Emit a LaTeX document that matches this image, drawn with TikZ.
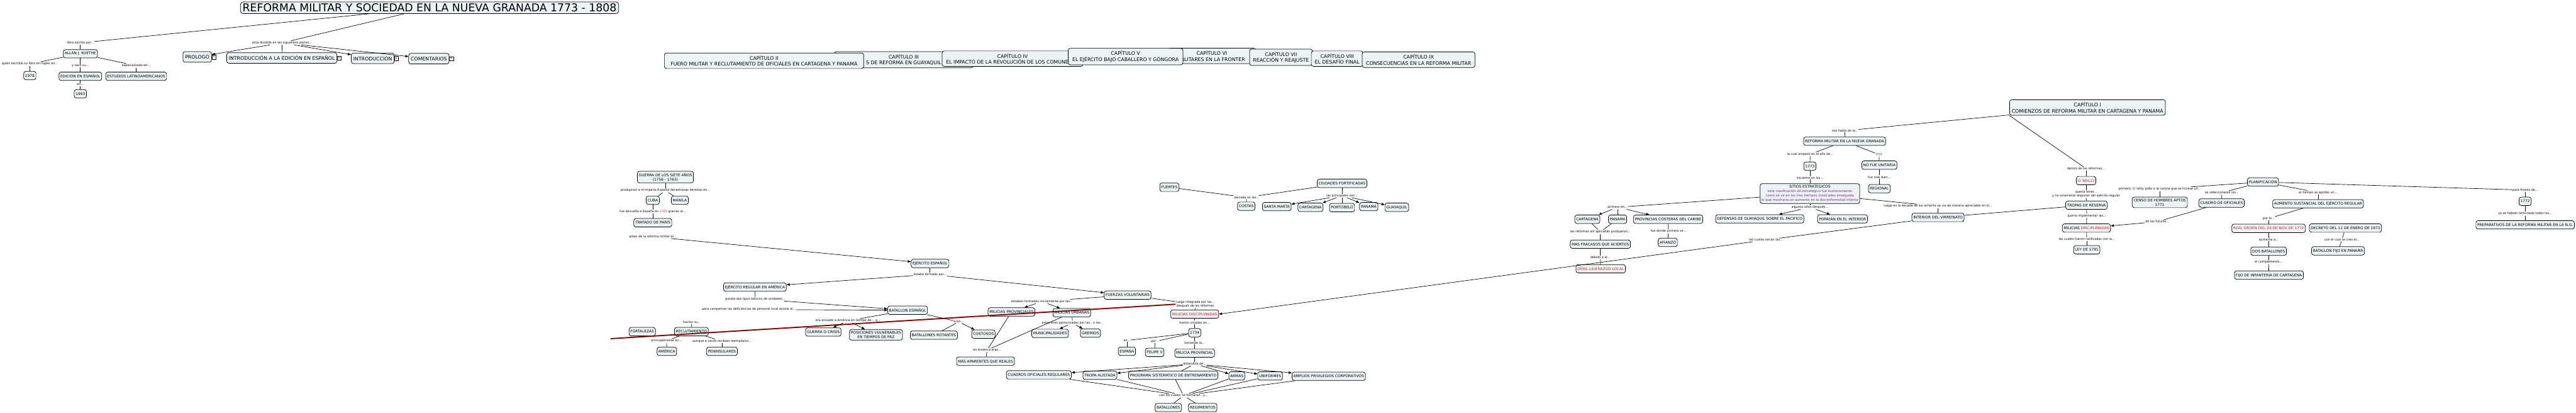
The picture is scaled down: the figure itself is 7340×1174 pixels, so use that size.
\documentclass[tikz,border=0pt]{standalone}
\usepackage{fontspec}
\setmainfont{DejaVu Sans}
\usetikzlibrary{arrows.meta,positioning}
\definecolor{clFondo}{HTML}{EBF3F5}
\definecolor{clRojo}{HTML}{E8202A}
\definecolor{clMorado}{HTML}{8E1F8E}
\definecolor{clVino}{HTML}{7A0C0C}
\tikzset{
  concepto/.style={rectangle, rounded corners=6pt, draw=black, line width=1.3pt,
                   fill=clFondo, align=center, inner xsep=4pt, inner ysep=5pt,
                   minimum height=24pt, font=\fontsize{10.5}{12.5}\selectfont},
  parte/.style={concepto, font=\fontsize{14}{17}\selectfont, inner xsep=6pt, minimum height=30pt},
  capitulo/.style={parte, inner ysep=7pt},
  titulo/.style={concepto, font=\fontsize{31}{36}\selectfont, inner xsep=6pt, rounded corners=8pt},
  enlace/.style={fill=white, inner sep=1.5pt, align=center, font=\fontsize{8.7}{10.5}\selectfont},
  vinculo/.style={draw=black, line width=0.8pt, fill=white, inner sep=0pt,
                  minimum width=11pt, minimum height=12pt, font=\fontsize{10}{10}\selectfont},
  linea/.style={draw=black, line width=1.2pt},
  flecha/.style={linea, -{Triangle[length=9pt,width=7pt]}},
  resaltado/.style={draw=clVino, line width=3.5pt},
}
\begin{document}
\begin{tikzpicture}[x=1pt, y=-1pt]
  \useasboundingbox (0,0) rectangle (7340,1174);

  % titulo y partes del libro
  \node[titulo] (titulo) at (1224,22) {REFORMA MILITAR Y SOCIEDAD EN LA NUEVA GRANADA 1773 - 1808};
  \node[enlace] (lEscrito) at (229,122) {libro escrito por...};
  \node[enlace] (lDividido) at (804,122) {esta dividido en las siguientes partes...};
  \node[concepto] (allan) at (229,153) {ALLAN J. KUETHE};
  \node[enlace] (lIngles) at (85,182) {quien escribió su libro en ingles en...};
  \node[enlace] (lSaco) at (229,187) {y saco su...};
  \node[enlace] (lEspec) at (388,187) {especializado en...};
  \node[concepto] (n1978) at (85,215) {1978};
  \node[concepto] (edicion) at (229,217) {EDICIÓN EN ESPAÑOL};
  \node[concepto] (estudios) at (388,217) {ESTUDIOS LATINOAMERICANOS};
  \node[enlace] (lEn) at (229,241) {en...};
  \node[concepto] (n1993) at (229,267) {1993};
  \node[parte] (prologo) at (562,162) {PROLOGO};
  \node[parte] (introEd) at (803,165) {INTRODUCCIÓN A LA EDICIÓN EN ESPAÑOL};
  \node[parte] (intro) at (1062,166) {INTRODUCCIÓN};
  \node[parte] (comentarios) at (1222,167) {COMENTARIOS};
  \foreach \p in {prologo,introEd,intro,comentarios}
    \node[vinculo, anchor=west] (\p Ico) at (\p.east) {»};

  % capitulos
  \node[capitulo, minimum width=397pt] (cap3) at (2575,170) {CAPÍTULO III\\S DE REFORMA EN GUAYAQUIL};
  \node[capitulo, minimum width=568pt] (cap2) at (2177,173) {CAPÍTULO II\\FUERO MILITAR Y RECLUTAMIENTO DE OFICIALES EN CARTAGENA Y PANAMÁ};
  \node[capitulo, minimum width=401pt] (cap4) at (2885,167) {CAPÍTULO IV\\EL IMPACTO DE LA REVOLUCIÓN DE LOS COMUNEROS};
  \node[capitulo, minimum width=250pt] (cap6) at (3453,159) {CAPÍTULO VI\\MILITARES EN LA FRONTER};
  \node[capitulo, minimum width=327pt] (cap5) at (3207,161) {CAPÍTULO V\\EL EJÉRCITO BAJO CABALLERO Y GÓNGORA};
  \node[capitulo, minimum width=179pt] (cap7) at (3650,163) {CAPÍTULO VII\\REACCIÓN Y REAJUSTE};
  \node[capitulo, minimum width=147pt] (cap8) at (3810,167) {CAPÍTULO VIII\\EL DESAFÍO FINAL};
  \node[capitulo, minimum width=321pt] (cap9) at (4042,170) {CAPÍTULO IX\\CONSECUENCIAS EN LA REFORMA MILITAR};
  \node[capitulo] (cap1) at (5948,306) {CAPÍTULO I\\COMIENZOS DE REFORMA MILITAR EN CARTAGENA Y PANAMÁ};

  % ejercito espanol
  \node[concepto] (guerra) at (1896,504) {GUERRA DE LOS SIETE AÑOS\\(1756 - 1763)};
  \node[enlace] (lDerrotas) at (1896,542) {produjeron a el Imperio Español desastrozas derrotas en...};
  \node[concepto] (cuba) at (1860,570) {CUBA};
  \node[concepto] (manila) at (1937,570) {MANILA};
  \node[enlace] (lDevuelta) at (1860,602) {fue devuelta a España en \textcolor{clRojo}{1763} gracias al...};
  \node[concepto] (tratado) at (1860,634) {TRATADO DE PARIS};
  \node[enlace] (lAntes) at (1860,674) {antes de la reforma militar el...};
  \node[concepto] (ejEsp) at (2650,750) {EJÉRCITO ESPAÑOL};
  \node[enlace] (lFormado) at (2650,781) {estaba formado por...};
  \node[concepto] (ejReg) at (2151,817) {EJÉRCITO REGULAR EN AMÉRICA};
  \node[concepto] (fuerzas) at (3213,840) {FUERZAS VOLUNTARIAS};
  \node[enlace] (lPoseia) at (2152,851) {poseía dos tipos básicos de unidades...};
  \node[enlace] (lCompensar) at (2134,881) {para compensar las deficiencias de personal local existia el...};
  \node[concepto] (batEsp) at (2586,883) {BATALLON ESPAÑOL};
  \node[enlace] (lHacian) at (1971,917) {hacían su...};
  \node[concepto] (fortalezas) at (1830,944) {FORTALEZAS};
  \node[concepto] (reclut) at (1970,944) {RECLUTAMIENTO};
  \node[enlace] (lPrincEn) at (1899,970) {principalmente en...};
  \node[enlace] (lAunque) at (2057,971) {aunque a veces recibian reemplazos...};
  \node[concepto] (america) at (1900,1000) {AMÉRICA};
  \node[concepto] (peninsulares) at (2057,1000) {PENINSULARES};
  \node[enlace] (lEnviado) at (2416,913) {era enviado a América en tiempo de... o...};
  \node[concepto] (guerraCrisis) at (2346,945) {GUERRA O CRISIS};
  \node[concepto] (posiciones) at (2496,953) {POSICIONES VULNERABLES\\EN TIEMPOS DE PAZ};
  \node[enlace] (lEran) at (2732,916) {eran...};
  \node[concepto] (rotantes) at (2661,954) {BATALLONES ROTANTES};
  \node[concepto] (costosos) at (2802,951) {COSTOSOS};
  \node[enlace] (lFormadas) at (2969,858) {estaban formadas inicialmente por las...};
  \node[concepto] (milProv) at (2882,888) {MILICIAS PROVINCIALES};
  \node[concepto] (milUrb) at (3054,890) {MILICIAS URBANAS};
  \node[enlace] (lEnAmerica) at (2813,996) {en América eran...};
  \node[concepto] (aparentes) at (2808,1028) {MÁS APARENTES QUE REALES};
  \node[enlace] (lPatrocinadas) at (3056,919) {estas eran patrocinadas por las.. o los...};
  \node[concepto] (municip) at (2992,949) {MUNICIPALIDADES};
  \node[concepto] (gremios) at (3107,948) {GREMIOS};
  \node[enlace] (lIntegrada) at (3406,866) {luego integrada por las...\\después de las reformas};
  \node[concepto, text=clRojo] (milDisc) at (3404,894) {MILICIAS DISCIPLINADAS};
  \node[enlace] (lCreadas) at (3404,918) {fueron creadas en...};
  \node[concepto] (n1734) at (3404,947) {1734};
  \node[enlace] (lEnEsp) at (3211,969) {en...};
  \node[concepto] (espana) at (3211,1000) {ESPAÑA};
  \node[enlace] (lPor) at (3291,972) {por...};
  \node[concepto] (felipe) at (3290,1003) {FELIPE V};
  \node[enlace] (lTomando) at (3404,976) {tomando la...};
  \node[concepto] (milicia) at (3404,1005) {MILICIA PROVINCIAL};
  \node[enlace] (lDotandola) at (3404,1036) {dotandola de...};
  \node[concepto] (cuadros) at (2960,1067) {CUADROS OFICIALES REGULARES};
  \node[concepto] (tropa) at (3134,1068) {TROPA ALISTADA};
  \node[concepto] (programa) at (3343,1068) {PROGRAMA SISTEMATICO DE ENTRENAMIENTO};
  \node[concepto] (armas) at (3524,1070) {ARMAS};
  \node[concepto] (uniformes) at (3619,1070) {UNIFORMES};
  \node[concepto] (amplios) at (3786,1071) {AMPLIOS PRIVILEGIOS CORPORATIVOS};
  \node[enlace] (lFormaron) at (3372,1126) {con los cuales se formaron...y...};
  \node[concepto] (batallones) at (3329,1160) {BATALLONES};
  \node[concepto] (regimientos) at (3427,1160) {REGIMIENTOS};
  \coordinate (rojoIni) at (1740,964);

  % ciudades fortificadas
  \node[concepto] (fuertes) at (3332,533) {FUERTES};
  \node[concepto] (ciudades) at (3824,522) {CIUDADES FORTIFICADAS};
  \node[enlace] (lUbicada) at (3552,562) {ubicada en las...};
  \node[enlace] (lPrincipales) at (3824,557) {las principales son...};
  \node[concepto] (costas) at (3551,587) {COSTAS};
  \node[concepto] (santaMarta) at (3638,588) {SANTA MARTA};
  \node[concepto] (cartagena) at (3734,590) {CARTAGENA};
  \node[concepto] (portobelo) at (3824,591) {PORTOBELO};
  \node[concepto] (panama) at (3900,588) {PANAMÁ};
  \node[concepto] (guayaquil) at (3980,590) {GUAYAQUIL};

  % reforma militar en la nueva granada
  \node[enlace] (lHabla) at (5257,372) {nos habla de la...};
  \node[concepto] (reforma) at (5256,402) {REFORMA MILITAR EN LA NUEVA GRANADA};
  \node[enlace] (lEmpezo) at (5158,439) {la cual empezó en el año de...};
  \node[enlace] (lInterr) at (5354,440) {????};
  \node[concepto] (n1773) at (5157,473) {1773};
  \node[concepto] (unitaria) at (5355,470) {NO FUE UNITARIA};
  \node[enlace] (lInicial) at (5157,506) {inicialme en los...};
  \node[enlace] (lMasBien) at (5355,504) {fue más bien...};
  \node[concepto] (regional) at (5355,537) {REGIONAL};
  \node[concepto, font=\fontsize{9.4}{12.3}\selectfont] (sitios) at (5157,551)
    {{\fontsize{10.5}{12.3}\selectfont SITIOS ESTRATEGICOS}\\\textcolor{clMorado}{esta clasificación de estrategico fue evolucionando}\\\textcolor{clMorado}{como se ve en los tres tiempos mostrados enseguida}\\\textcolor{clMorado}{lo que mostraria un aumento en la disconformidad interna}};
  \node[enlace] (lPrimero) at (4609,590) {primero en...};
  \node[concepto] (cartagena2) at (4523,624) {CARTAGENA};
  \node[concepto] (panama2) at (4609,624) {PANAMÁ};
  \node[concepto] (provincias) at (4753,624) {PROVINCIAS COSTERAS DEL CARIBE};
  \node[enlace] (lReformasAlli) at (4560,660) {las reformas allí aplicadas produjeron...};
  \node[concepto] (fracasos) at (4560,695) {MÁS FRACASOS QUE ACIERTOS};
  \node[enlace] (lDebido) at (4560,733) {debido a el...};
  \node[concepto, text=clRojo] (debil) at (4561,765) {DÉBIL LIDERAZGO LOCAL};
  \node[enlace] (lAfianzo) at (4754,658) {fue donde primero se...};
  \node[concepto] (afianzo) at (4752,690) {AFIANZÓ};
  \node[enlace] (lAlgunos) at (5157,590) {algunos años después...};
  \node[concepto] (defensas) at (5014,623) {DEFENSAS DE GUAYAQUIL SOBRE EL PACIFICO};
  \node[concepto] (popayan) at (5250,623) {POPAYÁN EN EL INTERIOR};
  \node[enlace] (lOchenta) at (5522,587) {luego en la decada de los ochenta se vio de manera apreciable en el...};
  \node[concepto] (interior) at (5522,619) {INTERIOR DEL VIRREINATO};
  \node[enlace] (lSerian) at (5032,683) {las cuales serian las...};

  % o'reilly y planificacion
  \node[enlace] (lDentro) at (5944,480) {dentro de las reformas...};
  \node[concepto, text=clRojo] (oreilly) at (5944,514) {O´REILLY};
  \node[enlace] (lQueria) at (5944,552) {quería tener...\\y no solamente disponer del ejército regular};
  \node[concepto] (tropas) at (5945,584) {TROPAS DE RESERVA};
  \node[enlace] (lImplementar) at (5946,614) {quería implementar las...};
  \node[concepto] (milDisc2) at (5945,649) {MILICIAS \textcolor{clRojo}{DISCIPLINADAS}};
  \node[enlace] (lRatificadas) at (5946,681) {las cuales fueron ratificadas con la...};
  \node[concepto] (ley) at (5946,711) {LEY DE 1791};
  \node[concepto] (planif) at (6448,518) {PLANIFICACIÓN};
  \node[enlace] (lCorona) at (6154,538) {primero, O´reilly pidio a la corona que se hiciese un...};
  \node[concepto] (censo) at (6154,576) {CENSO DE HOMBRES APTOS\\1771};
  \node[enlace] (lSelecc) at (6331,548) {se seleccionaron los...};
  \node[concepto] (cuadroOf) at (6330,578) {CUADRO DE OFICIALES};
  \node[enlace] (lAprobo) at (6605,548) {al tiempo se aprobo un...};
  \node[concepto] (aumento) at (6605,580) {AUMENTO SUSTANCIAL DEL EJÉRCITO REGULAR};
  \node[enlace] (lFinales) at (7195,541) {para finales de...};
  \node[concepto] (n1772) at (7195,573) {1772};
  \node[enlace] (lTerminado) at (7195,608) {ya se habian terminado todos los...};
  \node[concepto] (preparativos) at (7195,640) {PREPARATIVOS DE LA REFORMA MILITAR EN LA N.G.};
  \node[enlace] (lFuturas) at (6147,631) {de las futuras...};
  \node[enlace] (lPorLa) at (6464,622) {por la...};
  \node[concepto, text=clRojo] (realOrden) at (6464,650) {REAL ORDEN DEL 24 DE NOV DE 1772};
  \node[enlace] (lAumenta) at (6464,682) {aumenta a...};
  \node[concepto] (dosBat) at (6464,715) {DOS BATALLONES};
  \node[enlace] (lComplemento) at (6464,746) {el complemento...};
  \node[concepto] (fijo) at (6465,783) {FIJO DE INFANTERÍA DE CARTAGENA};
  \node[concepto] (decreto) at (6683,649) {DECRETO DEL 11 DE ENERO DE 1973};
  \node[enlace] (lCreo) at (6673,682) {con el cual se creo el...};
  \node[concepto] (batFijo) at (6662,714) {BATALLON FIJO EN PANAMÁ};

  % conectores
  \draw[linea] (titulo) -- (lEscrito);
  \draw[linea] (titulo) -- (lDividido);
  \draw[linea] (lEscrito) -- (allan);
  \draw[linea] (allan) -- (lIngles);
  \draw[linea] (lIngles) -- (n1978);
  \draw[linea] (allan) -- (lSaco);
  \draw[linea] (lSaco) -- (edicion);
  \draw[linea] (allan) -- (lEspec);
  \draw[linea] (lEspec) -- (estudios);
  \draw[linea] (edicion) -- (lEn);
  \draw[linea] (lEn) -- (n1993);
  \draw[flecha] (lDividido) -- (prologo);
  \draw[linea] (lDividido) -- (introEd);
  \draw[flecha] (lDividido) -- (intro);
  \draw[flecha] (lDividido) -- (comentarios);

  \draw[resaltado] (rojoIni) -- (lIntegrada.west);
  \draw[linea] (guerra) -- (lDerrotas);
  \draw[linea] (lDerrotas) -- (cuba);
  \draw[linea] (lDerrotas) -- (manila);
  \draw[linea] (cuba) -- (lDevuelta);
  \draw[linea] (lDevuelta) -- (tratado);
  \draw[flecha] (lAntes) -- (ejEsp);
  \draw[linea] (ejEsp) -- (lFormado);
  \draw[flecha] (lFormado) -- (ejReg);
  \draw[flecha] (lFormado) -- (fuerzas);
  \draw[linea] (ejReg) -- (lPoseia);
  \draw[flecha] (lPoseia) -- (batEsp);
  \draw[flecha] (lCompensar) -- (batEsp);
  \draw[linea] (lHacian) -- (reclut);
  \draw[linea] (reclut) -- (lPrincEn);
  \draw[linea] (lPrincEn) -- (america);
  \draw[linea] (reclut) -- (lAunque);
  \draw[linea] (lAunque) -- (peninsulares);
  \draw[linea] (batEsp) -- (lEnviado);
  \draw[flecha] (lEnviado) -- (guerraCrisis);
  \draw[flecha] (lEnviado) -- (posiciones);
  \draw[linea] (batEsp) -- (lEran);
  \draw[linea] (lEran) -- (rotantes);
  \draw[flecha] (lEran) -- (costosos);
  \draw[linea] (fuerzas) -- (lFormadas);
  \draw[flecha] (lFormadas) -- (milProv);
  \draw[flecha] (lFormadas) -- (milUrb);
  \draw[linea] (milProv) -- (lEnAmerica);
  \draw[linea] (milUrb) -- (lEnAmerica);
  \draw[linea] (lEnAmerica) -- (aparentes);
  \draw[linea] (milUrb) -- (lPatrocinadas);
  \draw[flecha] (lPatrocinadas) -- (municip);
  \draw[flecha] (lPatrocinadas) -- (gremios);
  \draw[linea] (fuerzas) -- (lIntegrada);
  \draw[linea] (lIntegrada) -- (milDisc);
  \draw[linea] (milDisc) -- (lCreadas);
  \draw[linea] (lCreadas) -- (n1734);
  \draw[linea] (n1734) -- (lEnEsp);
  \draw[linea] (lEnEsp) -- (espana);
  \draw[linea] (n1734) -- (lPor);
  \draw[linea] (lPor) -- (felipe);
  \draw[linea] (n1734) -- (lTomando);
  \draw[linea] (lTomando) -- (milicia);
  \draw[linea] (milicia) -- (lDotandola);
  \draw[flecha] (lDotandola) -- (cuadros);
  \draw[flecha] (lDotandola) -- (tropa);
  \draw[linea] (lDotandola) -- (programa);
  \draw[flecha] (lDotandola) -- (armas);
  \draw[flecha] (lDotandola) -- (uniformes);
  \draw[flecha] (lDotandola) -- (amplios);
  \foreach \n in {cuadros,tropa,programa,armas,uniformes,amplios}
    \draw[linea] (\n) -- (lFormaron);
  \draw[linea] (lFormaron) -- (batallones);
  \draw[linea] (lFormaron) -- (regimientos);

  \draw[linea] (fuertes) -- (lUbicada);
  \draw[linea] (ciudades) -- (lUbicada);
  \draw[linea] (lUbicada) -- (costas);
  \draw[linea] (ciudades) -- (lPrincipales);
  \draw[flecha] (lPrincipales) -- (santaMarta);
  \draw[flecha] (lPrincipales) -- (cartagena);
  \draw[linea] (lPrincipales) -- (portobelo);
  \draw[flecha] (lPrincipales) -- (panama);
  \draw[flecha] (lPrincipales) -- (guayaquil);

  \draw[linea] (cap1) -- (lHabla);
  \draw[linea] (lHabla) -- (reforma);
  \draw[linea] (reforma) -- (lEmpezo);
  \draw[linea] (lEmpezo) -- (n1773);
  \draw[linea] (n1773) -- (lInicial);
  \draw[linea] (lInicial) -- (sitios);
  \draw[linea] (reforma) -- (lInterr);
  \draw[linea] (lInterr) -- (unitaria);
  \draw[linea] (unitaria) -- (lMasBien);
  \draw[linea] (lMasBien) -- (regional);
  \draw[linea] (sitios) -- (lPrimero);
  \draw[flecha] (lPrimero) -- (cartagena2);
  \draw[linea] (lPrimero) -- (panama2);
  \draw[flecha] (lPrimero) -- (provincias);
  \draw[linea] (cartagena2) -- (lReformasAlli);
  \draw[linea] (panama2) -- (lReformasAlli);
  \draw[linea] (lReformasAlli) -- (fracasos);
  \draw[linea] (fracasos) -- (lDebido);
  \draw[linea] (lDebido) -- (debil);
  \draw[linea] (provincias) -- (lAfianzo);
  \draw[linea] (lAfianzo) -- (afianzo);
  \draw[linea] (sitios) -- (lAlgunos);
  \draw[flecha] (lAlgunos) -- (defensas);
  \draw[flecha] (lAlgunos) -- (popayan);
  \draw[linea] (sitios) -- (lOchenta);
  \draw[linea] (lOchenta) -- (interior);
  \draw[linea] (interior) -- (lSerian);
  \draw[flecha] (lSerian) -- (milDisc.east);
  \draw[linea] (tropas) -- (interior);

  \draw[linea] (cap1.south west) -- (lDentro);
  \draw[linea] (lDentro) -- (oreilly);
  \draw[linea] (oreilly) -- (lQueria);
  \draw[linea] (lQueria) -- (tropas);
  \draw[linea] (tropas) -- (lImplementar);
  \draw[linea] (lImplementar) -- (milDisc2);
  \draw[linea] (milDisc2) -- (lRatificadas);
  \draw[linea] (lRatificadas) -- (ley);
  \draw[linea] (planif) -- (lCorona);
  \draw[linea] (lCorona) -- (censo);
  \draw[linea] (planif) -- (lSelecc);
  \draw[linea] (lSelecc) -- (cuadroOf);
  \draw[linea] (planif) -- (lAprobo);
  \draw[linea] (lAprobo) -- (aumento);
  \draw[linea] (planif) -- (lFinales);
  \draw[linea] (lFinales) -- (n1772);
  \draw[linea] (n1772) -- (lTerminado);
  \draw[linea] (lTerminado) -- (preparativos);
  \draw[linea] (cuadroOf) -- (lFuturas);
  \draw[flecha] (lFuturas) -- (milDisc2);
  \draw[linea] (aumento) -- (lPorLa);
  \draw[linea] (lPorLa) -- (realOrden);
  \draw[linea] (realOrden) -- (lAumenta);
  \draw[linea] (lAumenta) -- (dosBat);
  \draw[linea] (dosBat) -- (lComplemento);
  \draw[linea] (lComplemento) -- (fijo);
  \draw[linea] (decreto) -- (lCreo);
  \draw[linea] (lCreo) -- (batFijo);
\end{tikzpicture}
\end{document}
